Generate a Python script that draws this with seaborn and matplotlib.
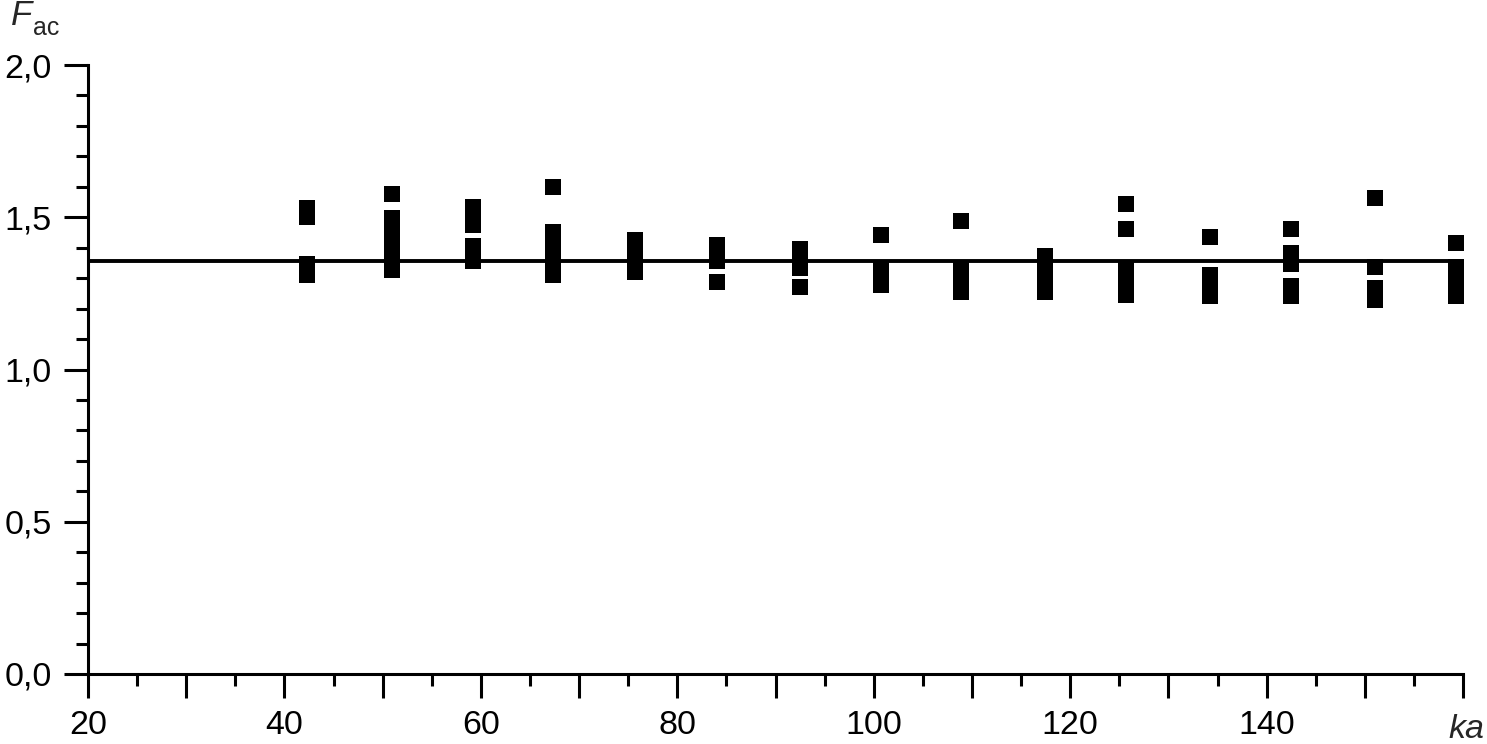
import matplotlib
matplotlib.use("Agg")
import matplotlib.pyplot as plt
from matplotlib.ticker import MultipleLocator, FuncFormatter
import seaborn as sns
import pandas as pd

# ka positions of the measurement columns
ka_values = [42.3, 50.9, 59.2, 67.35, 75.65, 84.0, 92.45, 100.75,
             108.9, 117.4, 125.7, 134.2, 142.5, 151.05, 159.3]

f_ac_values = [
    [1.53, 1.50, 1.345, 1.325, 1.31],
    [1.578, 1.496, 1.46, 1.43, 1.40, 1.37, 1.35, 1.328],
    [1.535, 1.505, 1.476, 1.407, 1.38, 1.355],
    [1.601, 1.45, 1.42, 1.39, 1.36, 1.335, 1.309],
    [1.424, 1.395, 1.37, 1.345, 1.319],
    [1.41, 1.38, 1.355, 1.286],
    [1.397, 1.365, 1.335, 1.271],
    [1.443, 1.335, 1.305, 1.276],
    [1.489, 1.328, 1.30, 1.275, 1.253],
    [1.374, 1.345, 1.315, 1.285, 1.253],
    [1.543, 1.463, 1.33, 1.30, 1.27, 1.246],
    [1.435, 1.312, 1.29, 1.265, 1.242],
    [1.463, 1.384, 1.365, 1.348, 1.273, 1.243],
    [1.562, 1.337, 1.269, 1.245, 1.227],
    [1.415, 1.338, 1.31, 1.28, 1.26, 1.242],
]

# mean level drawn as a horizontal line
f_ac_mean = 1.356

rows = [(ka, f) for ka, col in zip(ka_values, f_ac_values) for f in col]
df = pd.DataFrame(rows, columns=["ka", "F_ac"])

sns.set_style("ticks")
plt.rcParams["font.family"] = ["Liberation Sans", "DejaVu Sans"]
plt.rcParams["mathtext.fontset"] = "custom"
plt.rcParams["mathtext.rm"] = "Liberation Sans"
plt.rcParams["mathtext.it"] = "Liberation Sans:italic"

fig = plt.figure(figsize=(14.87, 7.44), dpi=100, facecolor="white")
ax = fig.add_axes([0.0592, 0.0941, 0.9247, 0.8185])

sns.scatterplot(data=df, x="ka", y="F_ac", marker="s", s=133, color="black",
                linewidth=0, ax=ax, zorder=3)
ax.axhline(f_ac_mean, color="black", linewidth=2.8, zorder=2)

ax.set_xlim(20, 160)
ax.set_ylim(0, 2.0)
ax.set_xlabel("")
ax.set_ylabel("")

ax.xaxis.set_major_locator(MultipleLocator(10))
ax.xaxis.set_minor_locator(MultipleLocator(5))
ax.xaxis.set_major_formatter(FuncFormatter(lambda v, p: f"{int(round(v))}" if round(v) % 20 == 0 and v < 155 else ""))
ax.yaxis.set_major_locator(MultipleLocator(0.5))
ax.yaxis.set_minor_locator(MultipleLocator(0.1))
ax.yaxis.set_major_formatter(FuncFormatter(lambda v, p: f"{v:.1f}".replace(".", ",")))

for side in ["top", "right"]:
    ax.spines[side].set_visible(False)
for side in ["left", "bottom"]:
    ax.spines[side].set_linewidth(2.2)
    ax.spines[side].set_color("black")

ax.tick_params(which="major", direction="out", length=17, width=2.2, color="black",
               labelsize=24.5, labelcolor="black")
ax.tick_params(which="minor", direction="out", length=8.5, width=2.2, color="black")
ax.tick_params(axis="x", which="major", pad=9)
ax.tick_params(axis="y", which="major", pad=9)

fig.text(0.0067, 0.966, r"$F$", fontsize=25, ha="left", va="baseline")
fig.text(0.0222, 0.953, "ac", fontsize=18, ha="left", va="baseline")
fig.text(0.9738, 0.008, "ka", fontsize=24.5, style="italic", ha="left", va="baseline")

fig.savefig("out.png", dpi=100, facecolor="white")
